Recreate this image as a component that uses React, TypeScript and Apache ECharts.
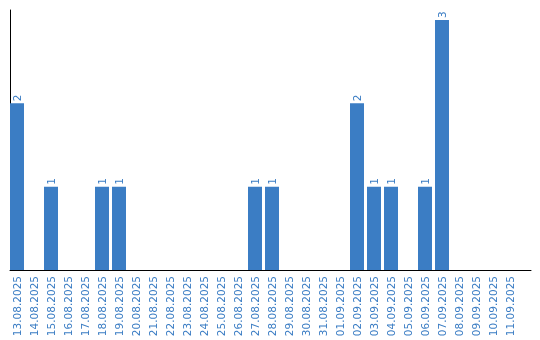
import React, { useEffect, useRef } from "react";
import * as echarts from "echarts";

const categories = [
  "13.08.2025", "14.08.2025", "15.08.2025", "16.08.2025", "17.08.2025",
  "18.08.2025", "19.08.2025", "20.08.2025", "21.08.2025", "22.08.2025",
  "23.08.2025", "24.08.2025", "25.08.2025", "26.08.2025", "27.08.2025",
  "28.08.2025", "29.08.2025", "30.08.2025", "31.08.2025", "01.09.2025",
  "02.09.2025", "03.09.2025", "04.09.2025", "05.09.2025", "06.09.2025",
  "07.09.2025", "08.09.2025", "09.09.2025", "10.09.2025", "11.09.2025",
];
const values = [2, 0, 1, 0, 0, 1, 1, 0, 0, 0, 0, 0, 0, 0, 1, 1, 0, 0, 0, 0, 2, 1, 1, 0, 1, 3, 0, 0, 0, 0];

const BLUE = "#3b7dc4";
const FONT = "DejaVu Sans";

export default function App() {
  const ref = useRef<HTMLDivElement>(null);
  useEffect(() => {
    const chart = echarts.init(ref.current!, null, { renderer: "svg" });
    chart.setOption({
      animation: false,
      grid: [
        { left: 8.5, width: 510, top: 20, bottom: 70 },
        { left: 10, right: 9, top: 10, bottom: 70 },
      ],
      xAxis: [
        {
          type: "category",
          gridIndex: 0,
          data: categories,
          axisLine: { show: false },
          axisTick: { show: false },
          axisLabel: {
            interval: 0,
            rotate: 90,
            margin: 6,
            color: BLUE,
            fontFamily: FONT,
            fontSize: 10.5,
          },
        },
        {
          type: "value",
          gridIndex: 1,
          axisLine: { show: true, onZero: false, lineStyle: { color: "#000", width: 1 } },
          axisTick: { show: false },
          axisLabel: { show: false },
          splitLine: { show: false },
        },
      ],
      yAxis: [
        {
          type: "value",
          gridIndex: 0,
          min: 0,
          max: 3,
          axisLine: { show: false },
          axisTick: { show: false },
          axisLabel: { show: false },
          splitLine: { show: false },
        },
        {
          type: "value",
          gridIndex: 1,
          axisLine: { show: true, onZero: false, lineStyle: { color: "#000", width: 1 } },
          axisTick: { show: false },
          axisLabel: { show: false },
          splitLine: { show: false },
        },
      ],
      series: [
        {
          type: "bar",
          xAxisIndex: 0,
          yAxisIndex: 0,
          data: values,
          barWidth: 14,
          itemStyle: { color: BLUE },
          label: {
            show: true,
            position: "top",
            rotate: 90,
            align: "left",
            verticalAlign: "middle",
            distance: 2,
            color: BLUE,
            fontFamily: FONT,
            fontSize: 10.5,
            formatter: (p: any) => (p.value ? String(p.value) : ""),
          },
        },
      ],
    });
    return () => chart.dispose();
  }, []);
  return (
    <div
      ref={ref}
      style={{ position: "fixed", left: 0, top: 0, width: 540, height: 340 }}
    />
  );
}
